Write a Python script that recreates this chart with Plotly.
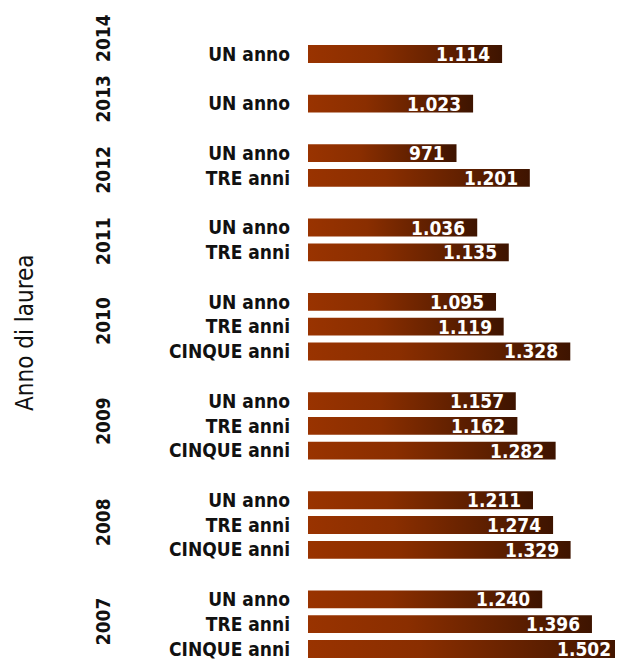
import plotly.graph_objects as go

# ---------------- data ----------------
years = ['2014', '2013', '2012', '2011', '2010', '2009', '2008', '2007']
durations = ['UN anno', 'TRE anni', 'CINQUE anni']
un_anno = [1114, 1023, 971, 1036, 1095, 1157, 1211, 1240]
tre_anni = [None, None, 1201, 1135, 1119, 1162, 1274, 1396]
cinque_anni = [None, None, None, None, 1328, 1282, 1329, 1502]
axis_title = 'Anno di laurea'

# ---------------- styling ----------------
FONT = 'DejaVu Sans Condensed, DejaVu Sans, sans-serif'
LEFT = 300
FIG_W = 607
PLOT_W = FIG_W - LEFT
PX_PER_UNIT = 0.3187
X_MIN = 505
X_MAX = X_MIN + PLOT_W / PX_PER_UNIT
SLOT_PX = 24.79
FIG_H = 652
Y_TOP = -46 / SLOT_PX
Y_BOTTOM = Y_TOP + FIG_H / SLOT_PX
BAR_HALF = 0.36
year_label_shift = [16, 5, -4, -1, 6, 5, 3, 3]   # px, visual tweak

series = [un_anno, tre_anni, cinque_anni]

# build slot layout (one slot per bar, blank slot between year groups)
rows = []          # (slot, duration label, value)
group_centers = []
slot = 0
for i, yr in enumerate(years):
    slots_here = []
    for d, vals in zip(durations, series):
        v = vals[i]
        if v is not None:
            rows.append((slot, d, v))
            slots_here.append(slot)
            slot += 1
    group_centers.append(sum(slots_here) / len(slots_here))
    slot += 1

fig = go.Figure()
gradient = [[0.0, '#993300'], [0.35, '#8a2e00'], [1.0, '#3e1400']]
for s, d, v in rows:
    fig.add_trace(go.Scatter(
        x=[X_MIN, v, v, X_MIN, X_MIN],
        y=[s - BAR_HALF, s - BAR_HALF, s + BAR_HALF, s + BAR_HALF, s - BAR_HALF],
        mode='lines', line=dict(width=0), fill='toself',
        fillgradient=dict(type='horizontal', colorscale=gradient,
                          start=X_MIN, stop=v),
        hoverinfo='skip', showlegend=False))

annotations = []
for s, d, v in rows:
    xa = min(v, X_MAX)
    shift = min(-10 + (v - xa) * PX_PER_UNIT, -2)
    annotations.append(dict(
        x=xa, y=s, xref='x', yref='y', xanchor='right', yanchor='middle',
        xshift=shift,
        text='<b>' + f'{v:,}'.replace(',', '.') + '</b>',
        showarrow=False, font=dict(family=FONT, size=19, color='white')))

for yr, c, sh in zip(years, group_centers, year_label_shift):
    annotations.append(dict(
        x=0, y=c, xref='paper', yref='y', xanchor='center', yanchor='middle',
        xshift=-205, yshift=sh, textangle=-90, text='<b>' + yr + '</b>',
        showarrow=False, font=dict(family=FONT, size=19, color='#111111')))

annotations.append(dict(
    x=0, y=1 - (333 - 8) / FIG_H, xref='paper', yref='paper',
    xanchor='center', yanchor='middle',
    xshift=-283, textangle=-90, text=axis_title, showarrow=False,
    font=dict(family=FONT, size=24, color='#111111')))

fig.update_layout(
    width=FIG_W, height=FIG_H,
    margin=dict(l=LEFT, r=0, t=0, b=0),
    paper_bgcolor='white', plot_bgcolor='white',
    xaxis=dict(range=[X_MIN, X_MAX], visible=False, fixedrange=True),
    yaxis=dict(range=[Y_BOTTOM, Y_TOP], showgrid=False, zeroline=False,
               showline=False, ticks='',
               tickvals=[r[0] for r in rows], ticktext=[r[1] for r in rows],
               ticklabelstandoff=17,
               tickfont=dict(family=FONT, size=19, color='#111111', weight='bold')),
    annotations=annotations,
)

fig.write_html('out.html')
